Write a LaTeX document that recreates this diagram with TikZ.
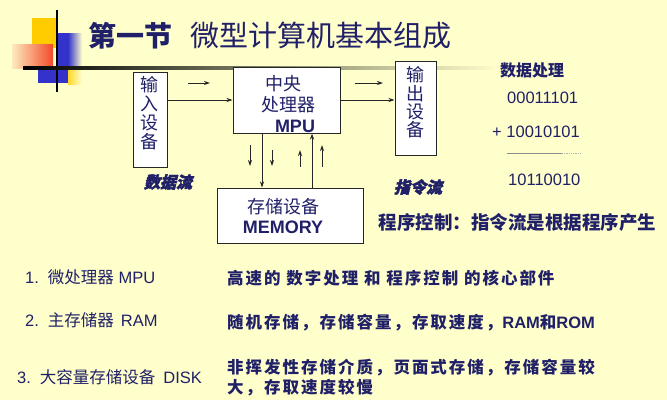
\documentclass[tikz,border=0pt]{standalone}
\usepackage{fontspec}
\setmainfont{Liberation Sans}
\newfontfamily\cjk{Noto Sans CJK SC}
\newfontfamily\cjkwide[LetterSpace=12]{Noto Sans CJK SC}
\newfontfamily\cjkbrush[FakeSlant=0.25,FakeBold=2.5]{Noto Sans CJK SC}
\usetikzlibrary{positioning,arrows.meta}

\definecolor{bgyellow}{RGB}{255,255,204}
\definecolor{navy}{RGB}{32,32,104}
\definecolor{decoyellow}{RGB}{255,204,0}
\definecolor{decoblue}{RGB}{51,51,204}
\definecolor{decored}{RGB}{240,50,50}

\tikzset{
  dev/.style={draw=black!85, fill=white, line width=1pt, inner sep=0pt},
  vtxt/.style={font=\cjk\fontsize{18}{19}\selectfont, text=navy, align=center, inner sep=0pt},
  flow/.style={-{Stealth[length=6pt,width=4pt]}, line width=0.9pt, black!85},
  brush/.style={font=\cjkbrush\bfseries\fontsize{16}{18}\selectfont, text=navy},
  num/.style={font=\fontsize{16.5}{18}\selectfont, text=navy, anchor=west, inner sep=0pt},
  item/.style={font=\fontsize{16.5}{18}\selectfont, text=navy, anchor=west, inner sep=0pt},
  desc/.style={font=\cjkwide\bfseries\fontsize{16.5}{20}\selectfont, text=navy, anchor=west, inner sep=0pt, align=left}
}

\begin{document}
\begin{tikzpicture}[x=1pt, y=-1pt]
    % Background
    \fill[bgyellow] (0,0) rectangle (667,400);
    \useasboundingbox (0,0) rectangle (667,400);

    % Corner decoration
    \fill[decoyellow] (32,18) rectangle (56,48);
    \shade[left color=decored!10!bgyellow, right color=decored!85!decoyellow] (12,44) rectangle (53,68);
    \fill[decoblue] (38,68) rectangle (68,83);
    \fill[decoblue] (57,33) rectangle (68,68);
    \shade[left color=decoblue, right color=bgyellow] (68,33) rectangle (82,70);
    \shade[left color=decoyellow!80!bgyellow, right color=bgyellow] (68,70) rectangle (82,84);
    \draw[line width=2pt] (57,10) -- (57,92);
    \shade[left color=black, middle color=black!55!bgyellow, right color=bgyellow] (23,66.8) rectangle (500,69.3);

    % Title
    \node[font=\cjk\bfseries\fontsize{28}{30}\selectfont, text=navy, anchor=west, inner sep=0pt] (sec) at (88,36) {第一节};
    \node[font=\cjk\fontsize{29}{30}\selectfont, text=navy, anchor=west, inner sep=0pt] (title) at (190,36) {微型计算机基本组成};

    % Boxes
    \node[dev, minimum width=34pt, minimum height=95pt] (in) at (150,119.5) {};
    \node[dev, minimum width=107pt, minimum height=66pt] (cpu) at (286.5,100) {};
    \node[dev, minimum width=41pt, minimum height=94pt] (out) at (415.5,108) {};
    \node[dev, minimum width=146pt, minimum height=55pt] (mem) at (290,215.5) {};

    \node[vtxt] (inT) at ([xshift=-1pt, yshift=6pt]in.center) {输\\入\\设\\备};
    \node[vtxt, font=\cjk\fontsize{18}{18.3}\selectfont] (outT) at ([yshift=5.5pt]out.center) {输\\出\\设\\备};
    \node[vtxt, font=\cjk\fontsize{18}{21}\selectfont] (cpuT) at ([xshift=1.5pt, yshift=-4pt]cpu.center)
        {\hspace*{-9pt}中央\\处理器\\\hspace*{14pt}{\fontspec{Liberation Sans}\bfseries MPU}};
    \node[vtxt, font=\cjk\fontsize{18}{20}\selectfont] (memT) at ([xshift=-7pt]mem.center)
        {存储设备\\{\fontspec{Liberation Sans}\bfseries MEMORY}};

    % Connections
    \draw[flow] (in.east |- cpu.west) -- (cpu.west);
    \draw[flow] (cpu.east) -- (cpu.east -| out.west);
    \draw[flow] ([xshift=-24.5pt]cpu.south) -- ([xshift=-24.5pt]cpu.south |- mem.north);
    \draw[flow] ([xshift=22pt]mem.north) -- ([xshift=22pt]mem.north |- cpu.south);

    % Direction marks
    \draw[flow] (188,83) -- (210,83);
    \draw[flow] (355,83) -- (383,83);
    \foreach \x/\ya/\yb in {250/145/166, 272/150/166, 300/167/150, 322/167/145}
        \draw[flow] (\x,\ya) -- (\x,\yb);

    \node[brush] (dataflow) at (168,182) {数据流};
    \node[brush] (instrflow) at (418,187) {指令流};

    % Data processing
    \node[font=\cjk\bfseries\fontsize{16}{18}\selectfont, text=navy] (dp) at (532,70) {数据处理};
    \node[num] (n1) at (507,98) {00011101};
    \node[num] (n2) at (492,132) {+ 10010101};
    \draw[line width=0.8pt, black!45] (507,153) -- (562,153);
    \draw[line width=0.8pt, black!30, densely dotted] (562,153) -- (581,153);
    \node[num] (n3) at (508,180) {10110010};
    \node[font=\cjk\bfseries\fontsize{18.5}{20}\selectfont, text=navy] (prog) at (517.5,222) {程序控制：指令流是根据程序产生};

    % List
    \node[item] (it1) at (25,277) {1.\hspace{9pt}{\cjk 微处理器} MPU};
    \node[item] (it2) at (25,320) {2.\hspace{9pt}{\cjk 主存储器}\hspace{7pt}RAM};
    \node[item] (it3) at (17,377) {3.\hspace{9pt}{\cjk 大容量存储设备}\hspace{8pt}DISK};

    \node[desc] (d1) at (227,278) {高速的 数字处理 和 程序控制 的核心部件};
    \node[desc] (d2) at (227,323) {随机存储，存储容量，存取速度，{\fontspec{Liberation Sans}\bfseries\fontsize{16.5}{20}\selectfont RAM}和{\fontspec{Liberation Sans}\bfseries\fontsize{16.5}{20}\selectfont ROM}};
    \node[desc] (d3) at (227,378) {非挥发性存储介质，页面式存储，存储容量较\\大，存取速度较慢};

\end{tikzpicture}
\end{document}
